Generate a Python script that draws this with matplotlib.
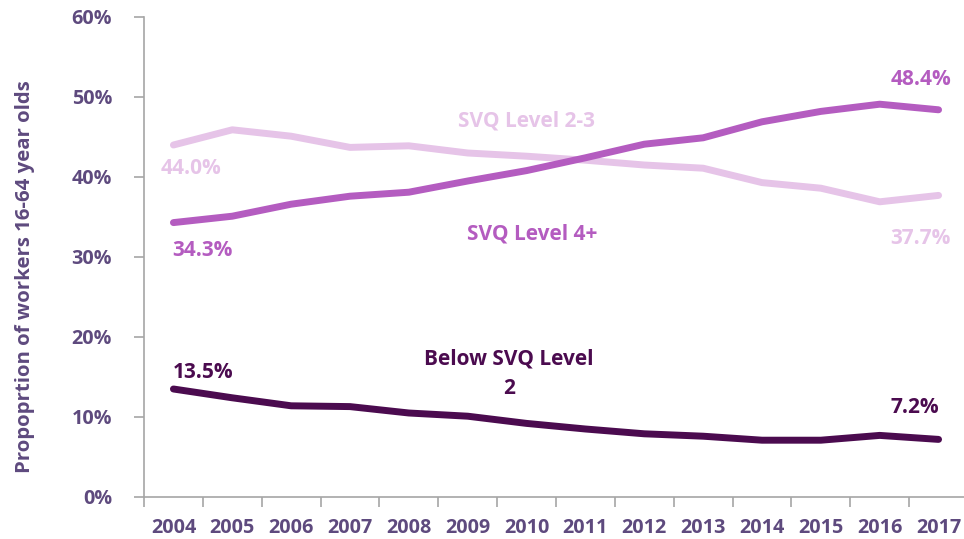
import matplotlib.pyplot as plt
from matplotlib.ticker import PercentFormatter

years = ['2004', '2005', '2006', '2007', '2008', '2009', '2010',
         '2011', '2012', '2013', '2014', '2015', '2016', '2017']
svq_2_3 = [44.0, 45.9, 45.1, 43.7, 43.9, 43.0, 42.6,
           42.1, 41.5, 41.1, 39.3, 38.6, 36.9, 37.7]
svq_4_plus = [34.3, 35.1, 36.6, 37.6, 38.1, 39.5, 40.8,
              42.4, 44.1, 44.9, 46.9, 48.2, 49.1, 48.4]
below_2 = [13.5, 12.4, 11.4, 11.3, 10.5, 10.1, 9.2,
           8.5, 7.9, 7.6, 7.1, 7.1, 7.7, 7.2]

c_light = '#E6C4E8'
c_mid = '#B45CC0'
c_dark = '#4B0B4F'
c_text = '#5E4A7E'
c_axis = '#A6A6A6'

plt.rcParams['font.family'] = ['Open Sans', 'DejaVu Sans']
plt.rcParams['font.weight'] = 'bold'

fig = plt.figure(figsize=(9.64, 5.39), dpi=100)
ax = fig.add_axes([144 / 964, 42 / 539, 824 / 964, 480 / 539])

x = range(len(years))
for vals, col in [(svq_2_3, c_light), (svq_4_plus, c_mid), (below_2, c_dark)]:
    ax.plot(x, vals, color=col, lw=5, solid_joinstyle='round',
            solid_capstyle='round', clip_on=False)

ax.set_xlim(-0.5, len(years) - 0.5)
ax.set_ylim(0, 60)
ax.set_yticks(range(0, 61, 10))
ax.yaxis.set_major_formatter(PercentFormatter(decimals=0))
ax.set_xticks(x)
ax.set_xticklabels(years)
ax.set_xticks([i - 0.5 for i in range(len(years) + 1)], minor=True)
ax.tick_params(axis='x', which='major', length=0, pad=15, labelsize=14.2, labelcolor=c_text)
ax.tick_params(axis='x', which='minor', length=7, color=c_axis, width=1.2)
ax.tick_params(axis='y', length=7, color=c_axis, width=1.2, pad=16,
               labelsize=14.2, labelcolor=c_text)
for lab in ax.get_xticklabels() + ax.get_yticklabels():
    lab.set_fontweight('bold')

for s in ['top', 'right']:
    ax.spines[s].set_visible(False)
for s in ['left', 'bottom']:
    ax.spines[s].set_color(c_axis)
    ax.spines[s].set_linewidth(1.2)

ax.set_ylabel('Propoprtion of workers 16-64 year olds', color=c_text,
              fontsize=14.7, fontweight='bold')
ax.yaxis.set_label_coords(-0.132, 0.46)

fs = 15
ax.text(6.0, 47.0, 'SVQ Level 2-3', color=c_light, fontsize=fs, ha='center', va='center')
ax.text(0.3, 41.0, '44.0%', color=c_light, fontsize=fs, ha='center', va='center')
ax.text(0.5, 30.85, '34.3%', color=c_mid, fontsize=fs, ha='center', va='center')
ax.text(6.1, 32.85, 'SVQ Level 4+', color=c_mid, fontsize=fs, ha='center', va='center')
ax.text(12.7, 52.2, '48.4%', color=c_mid, fontsize=fs, ha='center', va='center')
ax.text(12.7, 32.25, '37.7%', color=c_light, fontsize=fs, ha='center', va='center')
ax.text(0.5, 15.5, '13.5%', color=c_dark, fontsize=fs, ha='center', va='center')
ax.text(5.7, 15.45, 'Below SVQ Level\n2', color=c_dark, fontsize=fs, ha='center',
        va='center', linespacing=1.55)
ax.text(12.6, 11.15, '7.2%', color=c_dark, fontsize=fs, ha='center', va='center')

fig.savefig('out.png', dpi=100)
